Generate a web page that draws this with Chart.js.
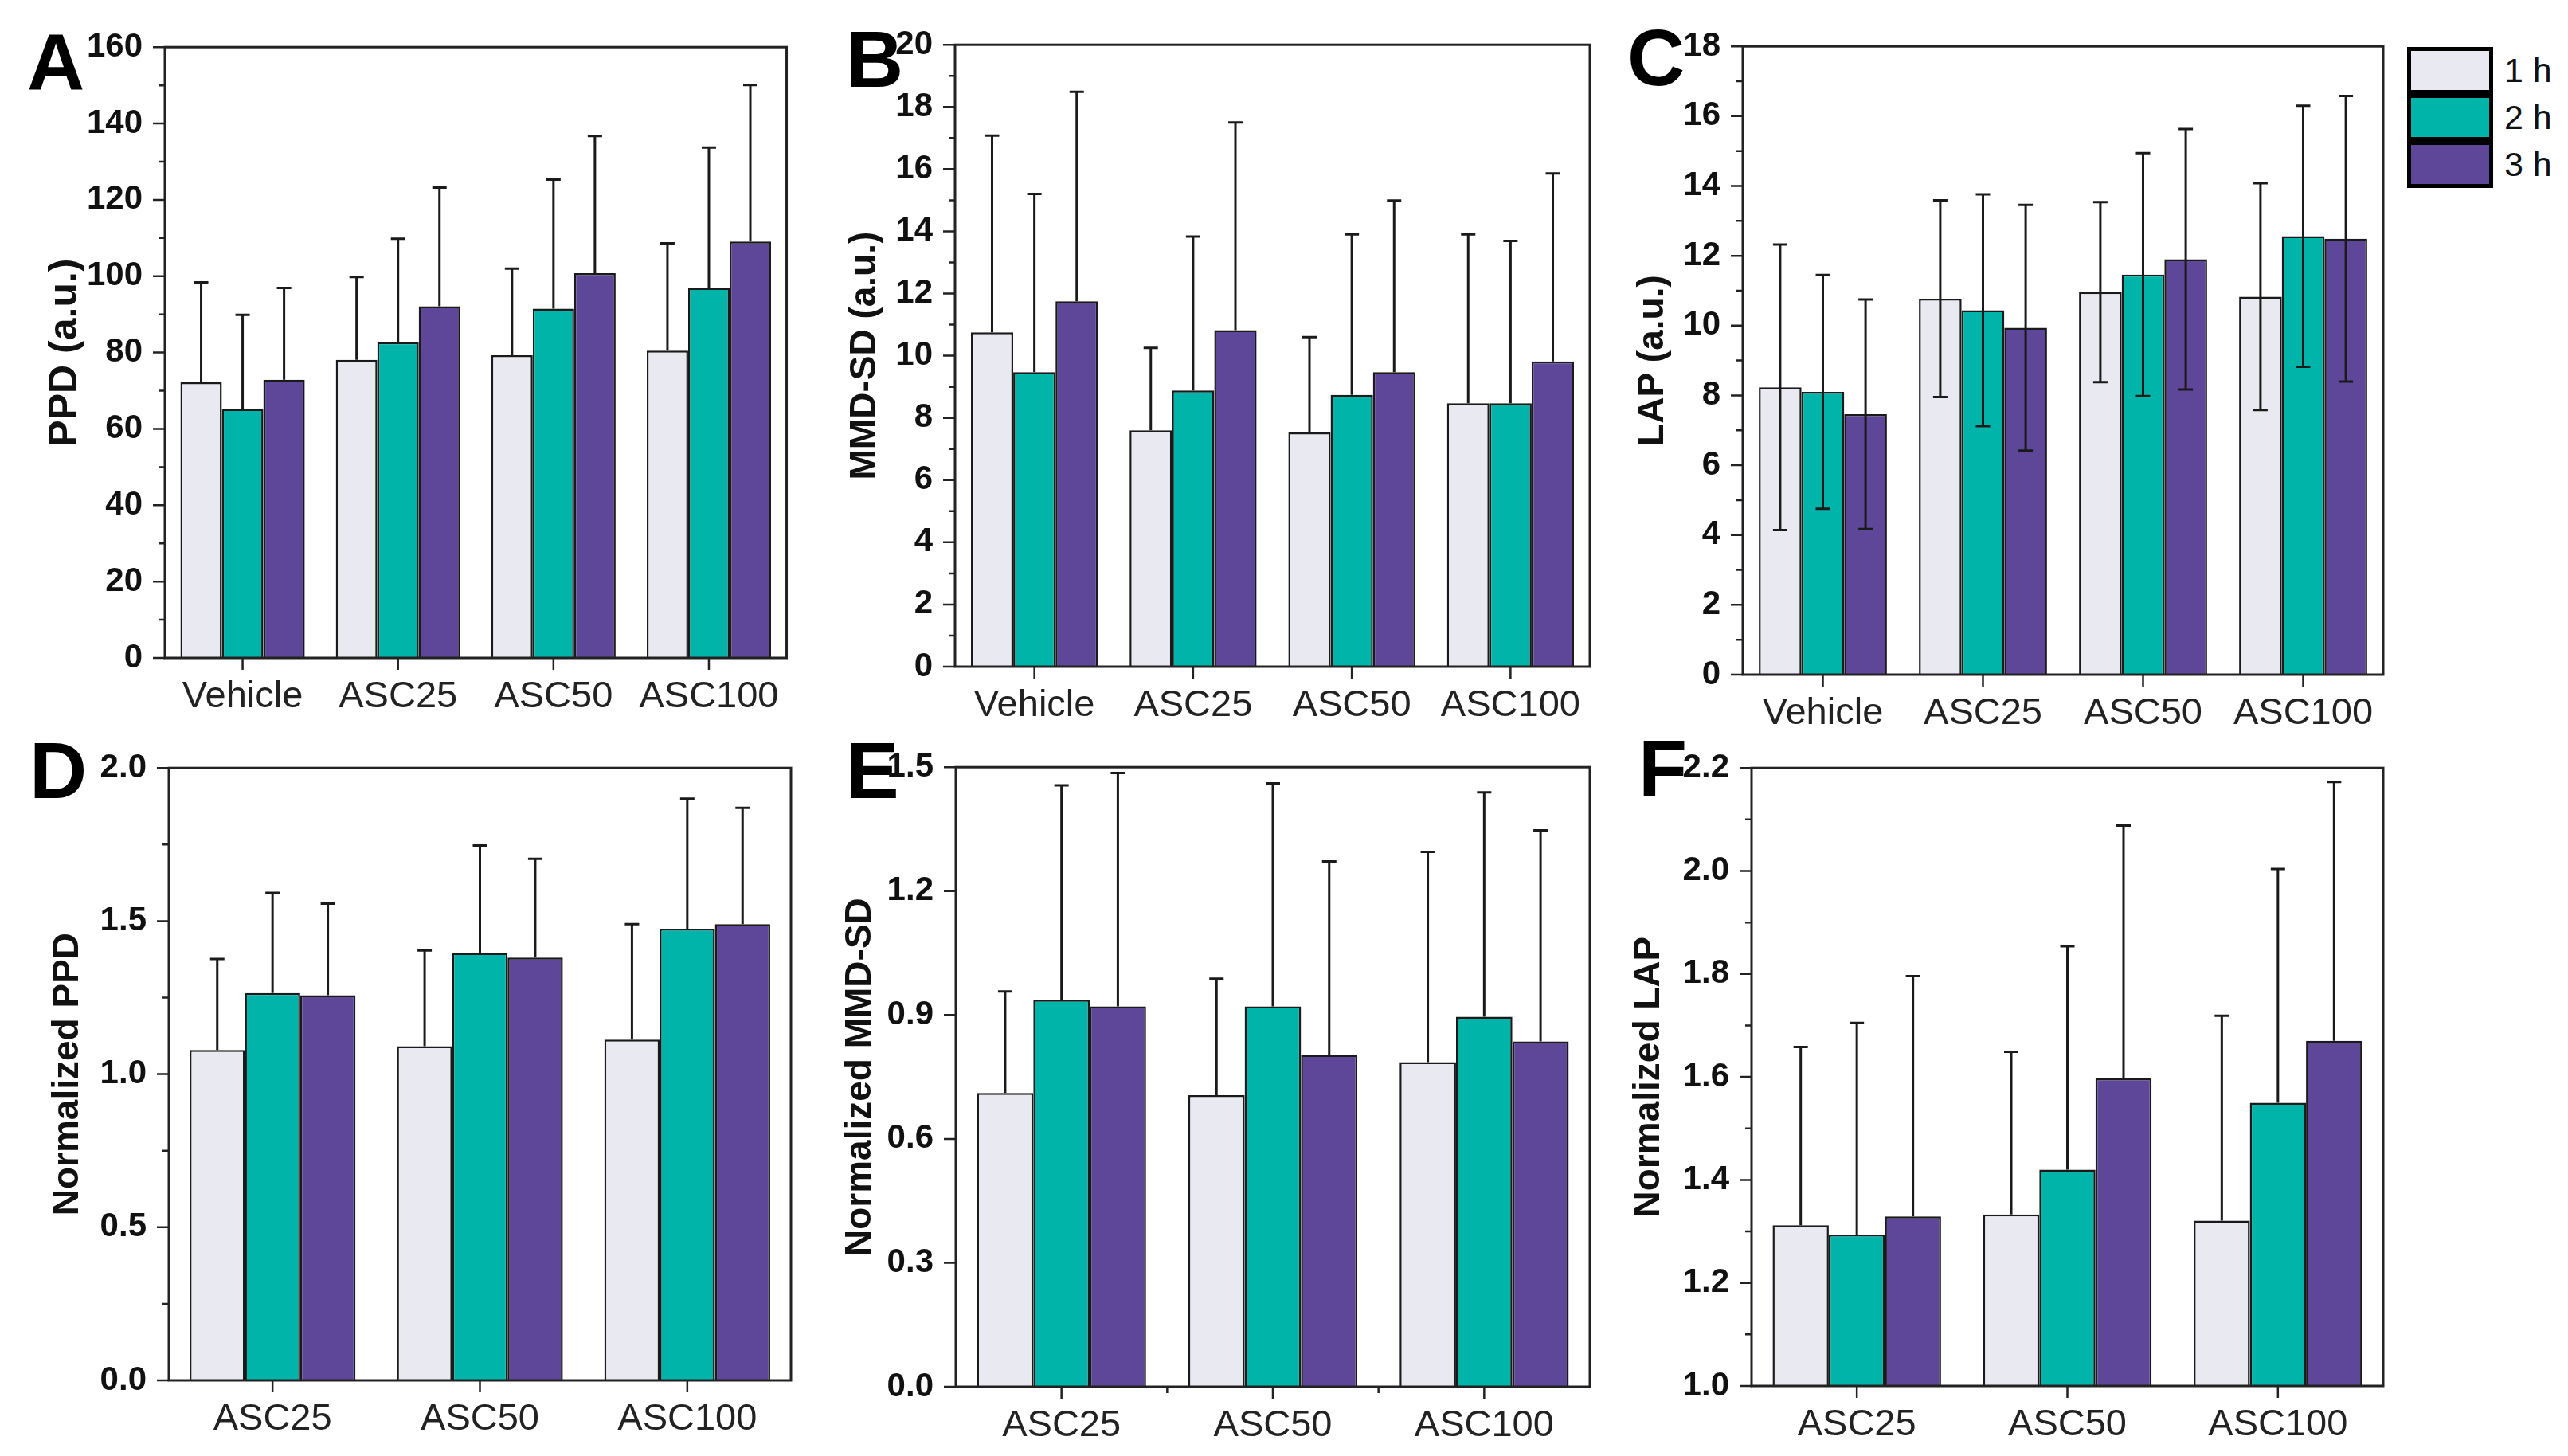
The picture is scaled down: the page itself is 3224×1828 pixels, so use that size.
<!DOCTYPE html>
<html>
<head>
<meta charset="utf-8">
<script src="https://cdn.jsdelivr.net/npm/chart.js@4.4.0/dist/chart.umd.min.js"></script>
<style>
  body { margin:0; background:#fff; width:3224px; height:1828px; position:relative; overflow:hidden; font-family:"Liberation Sans", Arial, sans-serif; }
  .panel { position:absolute; }
  .letter { position:absolute; font-weight:bold; font-size:100px; line-height:1; color:#000; }
  #legend { position:absolute; left:3022px; top:59px; }
  .lg-row { display:flex; align-items:center; height:59px; }
  .sw { width:98px; height:49px; border:5px solid #000; }
  .lbl { margin-left:14px; font-size:43px; color:#111; }
</style>
</head>
<body>
<div class="letter" style="left:34px;top:28px">A</div>
<div class="letter" style="left:1062px;top:24px">B</div>
<div class="letter" style="left:2043px;top:22px">C</div>
<div class="letter" style="left:37px;top:917px">D</div>
<div class="letter" style="left:1062px;top:917px">E</div>
<div class="letter" style="left:2057px;top:914px">F</div>

<div id="legend">
  <div class="lg-row"><div class="sw" style="background:#E8E9F1"></div><span class="lbl">1 h</span></div>
  <div class="lg-row"><div class="sw" style="background:#00B4AA"></div><span class="lbl">2 h</span></div>
  <div class="lg-row"><div class="sw" style="background:#5E4699"></div><span class="lbl">3 h</span></div>
</div>

<script>
// categories
const groups4 = ["Vehicle", "ASC25", "ASC50", "ASC100"];
const groups3 = ["ASC25", "ASC50", "ASC100"];
const seriesNames = ["1 h", "2 h", "3 h"];
const seriesColors = ["#E8E9F1", "#00B4AA", "#5E4699"];

// A - PPD (a.u.)
const ppd1 = [72.2, 78.1, 79.3, 80.5];
const ppd2 = [65.2, 82.7, 91.5, 96.9];
const ppd3 = [72.9, 92.1, 100.8, 109.1];
const ppdSd1 = [26.2, 21.7, 22.7, 28.1];
const ppdSd2 = [24.7, 27.1, 33.8, 36.8];
const ppdSd3 = [24.0, 31.1, 35.9, 41.0];

// B - MMD-SD (a.u.)
const mmd1 = [10.75, 7.6, 7.53, 8.47];
const mmd2 = [9.47, 8.88, 8.74, 8.47];
const mmd3 = [11.75, 10.82, 9.47, 9.82];
const mmdSd1 = [6.33, 2.65, 3.07, 5.43];
const mmdSd2 = [5.73, 4.95, 5.16, 5.22];
const mmdSd3 = [6.74, 6.68, 5.52, 6.04];

// C - LAP (a.u.)
const lap1 = [8.23, 10.77, 10.96, 10.83];
const lap2 = [8.1, 10.44, 11.46, 12.56];
const lap3 = [7.46, 9.94, 11.9, 12.49];
const lapSd1 = [4.09, 2.82, 2.58, 3.25];
const lapSd2 = [3.35, 3.32, 3.48, 3.74];
const lapSd3 = [3.29, 3.52, 3.73, 4.09];

// D - Normalized PPD
const nppd1 = [1.079, 1.091, 1.113];
const nppd2 = [1.265, 1.396, 1.475];
const nppd3 = [1.258, 1.381, 1.49];
const nppdSd1 = [0.297, 0.313, 0.377];
const nppdSd2 = [0.327, 0.351, 0.425];
const nppdSd3 = [0.299, 0.322, 0.38];

// E - Normalized MMD-SD
const nmmd1 = [0.711, 0.706, 0.786];
const nmmd2 = [0.937, 0.921, 0.896];
const nmmd3 = [0.921, 0.803, 0.836];
const nmmdSd1 = [0.246, 0.282, 0.509];
const nmmdSd2 = [0.519, 0.54, 0.543];
const nmmdSd3 = [0.565, 0.469, 0.511];

// F - Normalized LAP
const nlap1 = [1.312, 1.333, 1.321];
const nlap2 = [1.294, 1.42, 1.55];
const nlap3 = [1.329, 1.597, 1.67];
const nlapSd1 = [0.346, 0.316, 0.398];
const nlapSd2 = [0.411, 0.434, 0.454];
const nlapSd3 = [0.467, 0.491, 0.503];

// error bars, read from dataset.sd
const errorBars = {
  id: 'errorBars',
  afterDatasetsDraw(chart, args, opts) {
    const ctx = chart.ctx, y = chart.scales.y;
    ctx.save();
    ctx.strokeStyle = '#1a1a1a';
    ctx.lineWidth = 3;
    chart.data.datasets.forEach((ds, i) => {
      chart.getDatasetMeta(i).data.forEach((bar, j) => {
        const v = ds.data[j], e = ds.sd[j];
        const top = y.getPixelForValue(v + e);
        const bot = opts.both ? y.getPixelForValue(v - e) : bar.y;
        ctx.beginPath();
        ctx.moveTo(bar.x, top); ctx.lineTo(bar.x, bot);
        ctx.moveTo(bar.x - 9, top); ctx.lineTo(bar.x + 9, top);
        if (opts.both) { ctx.moveTo(bar.x - 9, bot); ctx.lineTo(bar.x + 9, bot); }
        ctx.stroke();
      });
    });
    ctx.restore();
  }
};

// box frame + outward ticks
const frameTicks = {
  id: 'frameTicks',
  afterDraw(chart, args, o) {
    const ctx = chart.ctx, a = chart.chartArea, x = chart.scales.x, y = chart.scales.y;
    ctx.save();
    ctx.strokeStyle = '#222';
    ctx.lineWidth = 3;
    ctx.strokeRect(a.left, a.top, a.right - a.left, a.bottom - a.top);
    ctx.lineWidth = 2.5;
    ctx.beginPath();
    const step = o.minor || o.major;
    const n = Math.round((y.max - y.min) / step);
    for (let k = 0; k <= n; k++) {
      const v = y.min + k * step;
      const r = v / o.major;
      const len = Math.abs(r - Math.round(r)) < 1e-6 ? 15 : 8;
      const py = y.getPixelForValue(v);
      ctx.moveTo(a.left, py); ctx.lineTo(a.left - len, py);
    }
    const cats = chart.data.labels.length;
    for (let i = 0; i < cats; i++) {
      const px = x.getPixelForValue(i);
      ctx.moveTo(px, a.bottom); ctx.lineTo(px, a.bottom + 15);
      if (o.bounds && i < cats - 1) {
        const bx = (px + x.getPixelForValue(i + 1)) / 2;
        ctx.moveTo(bx, a.bottom); ctx.lineTo(bx, a.bottom + 8);
      }
    }
    ctx.stroke();
    ctx.restore();
  }
};

function makePanel(p) {
  const padTop = 40, padRight = 12, hx = 100;
  const cl = p.titleX - 30;
  const wy = p.area[0] - cl;
  const div = document.createElement('div');
  div.className = 'panel';
  div.style.left = cl + 'px';
  div.style.top = (p.area[2] - padTop) + 'px';
  div.style.width = (p.area[1] - cl + padRight) + 'px';
  div.style.height = (p.area[3] - p.area[2] + padTop + hx) + 'px';
  const cv = document.createElement('canvas');
  div.appendChild(cv);
  document.body.appendChild(div);

  new Chart(cv, {
    type: 'bar',
    data: {
      labels: p.labels,
      datasets: p.values.map((vals, i) => ({
        label: seriesNames[i],
        data: vals,
        sd: p.sds[i],
        backgroundColor: seriesColors[i],
        borderColor: '#1a1a1a',
        borderWidth: 2.5,
        categoryPercentage: 0.8,
        barPercentage: 1.0
      }))
    },
    options: {
      responsive: true,
      maintainAspectRatio: false,
      animation: false,
      layout: { padding: { top: padTop, right: padRight, left: 0, bottom: 0 } },
      plugins: {
        legend: { display: false },
        tooltip: { enabled: false },
        errorBars: { both: !!p.both },
        frameTicks: { major: p.major, minor: p.minor, bounds: !!p.bounds }
      },
      scales: {
        x: {
          grid: { display: false, drawTicks: false },
          border: { display: false },
          ticks: { color: '#222', padding: 21, font: { family: 'Liberation Sans', size: 47 } },
          afterFit: s => { s.height = hx; }
        },
        y: {
          min: p.min, max: p.max,
          grid: { display: false, drawTicks: false },
          border: { display: false },
          ticks: {
            stepSize: p.major,
            color: '#111',
            padding: 28,
            font: { family: 'Liberation Sans', size: 42, weight: 'bold' },
            callback: v => v.toFixed(p.dec)
          },
          title: {
            display: true,
            text: p.title,
            color: '#111',
            padding: { top: 2.4, bottom: 0 },
            font: { family: 'Liberation Sans', size: p.titleSize || 46, weight: 'bold' }
          },
          afterFit: s => { s.width = wy; }
        }
      }
    },
    plugins: [errorBars, frameTicks]
  });
}

makePanel({ labels: groups4, values: [ppd1, ppd2, ppd3], sds: [ppdSd1, ppdSd2, ppdSd3],
  area: [207, 988, 46, 826], titleX: 80, title: 'PPD (a.u.)', titleSize: 50, min: 0, max: 160, major: 20, minor: 10, dec: 0 });
makePanel({ labels: groups4, values: [mmd1, mmd2, mmd3], sds: [mmdSd1, mmdSd2, mmdSd3],
  area: [1199, 1996, 43, 837], titleX: 1086, title: 'MMD-SD (a.u.)', min: 0, max: 20, major: 2, minor: 1, dec: 0 });
makePanel({ labels: groups4, values: [lap1, lap2, lap3], sds: [lapSd1, lapSd2, lapSd3], both: true,
  area: [2188, 2992, 45, 847], titleX: 2075, title: 'LAP (a.u.)', min: 0, max: 18, major: 2, minor: 1, dec: 0 });
makePanel({ labels: groups3, values: [nppd1, nppd2, nppd3], sds: [nppdSd1, nppdSd2, nppdSd3],
  area: [212, 993, 951, 1733], titleX: 85, title: 'Normalized PPD', min: 0, max: 2, major: 0.5, minor: 0.25, dec: 1 });
makePanel({ labels: groups3, values: [nmmd1, nmmd2, nmmd3], sds: [nmmdSd1, nmmdSd2, nmmdSd3], bounds: true,
  area: [1200, 1996, 950, 1741], titleX: 1080, title: 'Normalized MMD-SD', min: 0, max: 1.5, major: 0.3, dec: 1 });
makePanel({ labels: groups3, values: [nlap1, nlap2, nlap3], sds: [nlapSd1, nlapSd2, nlapSd3],
  area: [2199, 2992, 951, 1740], titleX: 2070, title: 'Normalized LAP', min: 1.0, max: 2.2, major: 0.2, minor: 0.1, dec: 1 });
</script>
</body>
</html>
